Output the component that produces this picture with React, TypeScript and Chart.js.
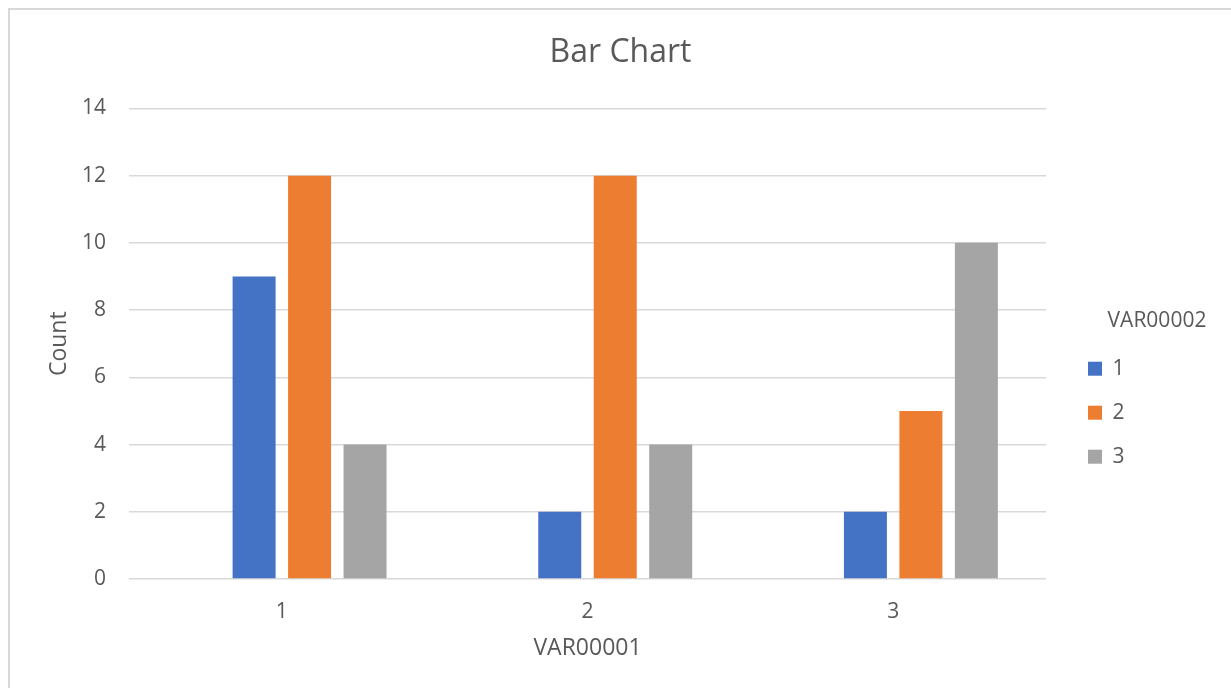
import React, { useEffect, useRef } from 'react';
import { Chart, registerables } from 'chart.js';

Chart.register(...registerables);

// ---- data ----
const categories = ['1', '2', '3'];
const seriesNames = ['1', '2', '3'];
// Excel reserves an empty first slot in every group (missing series)
const emptySeries: (number | null)[] = [null, null, null];
const series1 = [9, 2, 2];
const series2 = [12, 12, 5];
const series3 = [4, 4, 10];
const seriesColors = ['#4472C4', '#ED7D31', '#A5A5A5'];
const yTicks = [0, 2, 4, 6, 8, 10, 12, 14];
const chartTitle = 'Bar Chart';
const xTitle = 'VAR00001';
const yTitle = 'Count';
const legendTitle = 'VAR00002';

const TEXT = '#595959';
const GRID = '#D9D9D9';
const FONT = "'Open Sans', sans-serif";

const CANVAS_W = 1221;
const CANVAS_H = 678;
const LEGEND_BOX_W = 185;
const LEGEND_GAP = 19;
const LEGEND_W = 184;

const legendPlacement = {
  id: 'legendPlacement',
  beforeLayout(chart: any) {
    const lg = chart.legend;
    if (lg && !lg.__wrapped) {
      const origFit = lg.fit;
      lg.fit = function (this: any) {
        origFit.call(this);
        this.width = LEGEND_BOX_W;
      };
      lg.__wrapped = true;
    }
  },
  afterLayout(chart: any) {
    const lg = chart.legend;
    if (!lg) return;
    const left = chart.chartArea.right + LEGEND_GAP;
    lg.left = left;
    lg.width = LEGEND_W;
    lg.right = left + LEGEND_W;
  },
};

export default function App() {
  const ref = useRef<HTMLCanvasElement | null>(null);

  useEffect(() => {
    if (!ref.current) return;
    Chart.defaults.font.family = FONT;
    Chart.defaults.color = TEXT;
    const allSeries = [series1, series2, series3];
    const datasets: any[] = [
      {
        label: '',
        data: emptySeries,
        backgroundColor: 'rgba(0,0,0,0)',
        borderWidth: 0,
        categoryPercentage: 0.726,
        barPercentage: 0.775,
      },
      ...allSeries.map((s, i) => ({
        label: seriesNames[i],
        data: s,
        backgroundColor: seriesColors[i],
        borderColor: seriesColors[i],
        borderWidth: 0,
        categoryPercentage: 0.726,
        barPercentage: 0.775,
      })),
    ];
    const chart = new Chart(ref.current, {
      type: 'bar',
      data: { labels: categories, datasets },
      options: {
        responsive: false,
        animation: false,
        devicePixelRatio: 1,
        layout: { padding: { left: 0, right: 0, top: 0, bottom: 0 } },
        plugins: {
          tooltip: { enabled: false },
          title: {
            display: true,
            text: chartTitle,
            color: TEXT,
            font: { family: FONT, size: 32, weight: 'normal' },
            padding: { top: 24, bottom: 36 },
          },
          legend: {
            display: true,
            position: 'right',
            align: 'start',
            title: {
              display: true,
              text: legendTitle,
              color: TEXT,
              position: 'center',
              font: { family: FONT, size: 21 },
              padding: { top: 301, bottom: -1 },
            },
            labels: {
              color: TEXT,
              font: { family: FONT, size: 21 },
              boxWidth: 14,
              boxHeight: 14,
              padding: 23,
              filter: (item: any) => item.text !== '',
            },
          },
        },
        scales: {
          x: {
            grid: { display: false },
            border: { display: false },
            ticks: { color: TEXT, font: { family: FONT, size: 21 }, padding: 12 },
            title: {
              display: true,
              text: xTitle,
              color: TEXT,
              font: { family: FONT, size: 23 },
              padding: { top: 0, bottom: 26 },
            },
            afterFit: (scale: any) => {
              scale.height = 109;
            },
          },
          y: {
            min: yTicks[0],
            max: yTicks[yTicks.length - 1],
            ticks: {
              stepSize: yTicks[1] - yTicks[0],
              color: TEXT,
              font: { family: FONT, size: 21 },
              padding: 23,
            },
            grid: { color: GRID, lineWidth: 1.5, drawTicks: false },
            border: { display: false },
            title: {
              display: true,
              text: yTitle,
              color: TEXT,
              font: { family: FONT, size: 23 },
              padding: { top: 36, bottom: 0 },
            },
            afterFit: (scale: any) => {
              scale.width = 119;
            },
          },
        },
      },
      plugins: [legendPlacement],
    } as any);
    return () => chart.destroy();
  }, []);

  return (
    <div
      style={{
        position: 'fixed',
        left: 8,
        top: 8,
        right: 0,
        bottom: 0,
        borderLeft: '2px solid #D9D9D9',
        borderTop: '2px solid #D9D9D9',
        background: '#FFFFFF',
        overflow: 'hidden',
      }}
    >
      <canvas ref={ref} width={CANVAS_W} height={CANVAS_H} style={{ display: 'block' }} />
    </div>
  );
}
